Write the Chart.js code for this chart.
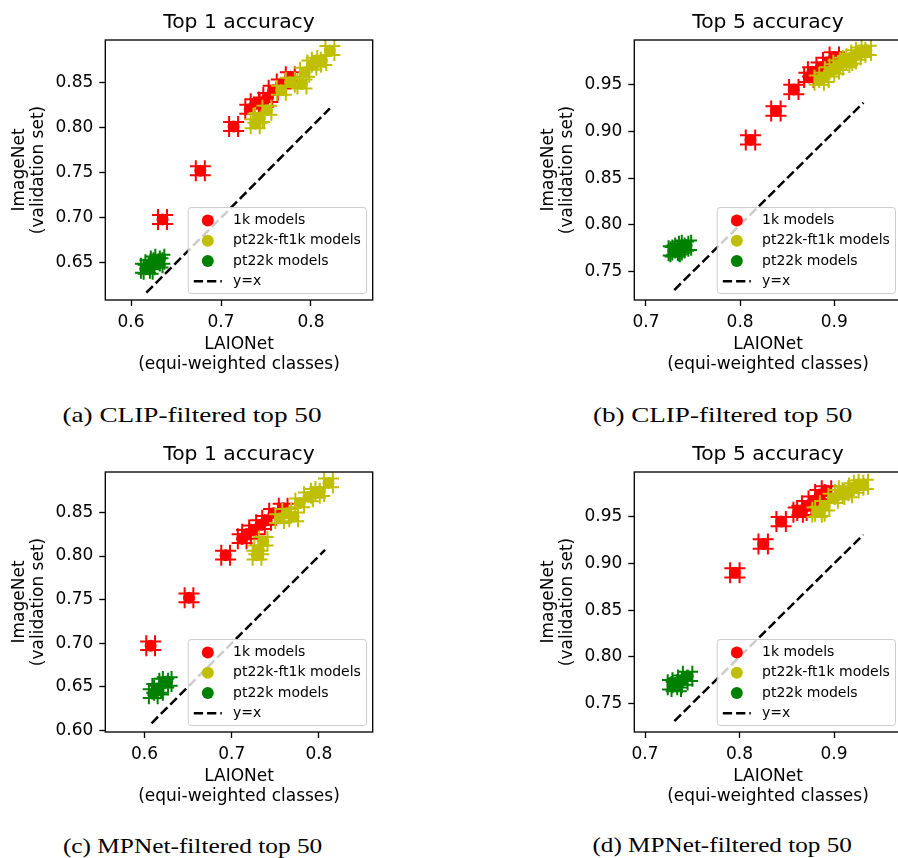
<!DOCTYPE html>
<html>
<head>
<meta charset="utf-8">
<script src="https://cdn.jsdelivr.net/npm/chart.js@4.4.0/dist/chart.umd.min.js"></script>
<style>
  html, body { margin: 0; padding: 0; background: #fff; overflow: hidden; width: 898px; height: 858px; }
  canvas { position: absolute; }
  .cap { position: absolute; font-family: "Liberation Serif", "Times New Roman", serif; font-size: 21px; line-height: 21px; color: #000; white-space: nowrap; }
</style>
</head>
<body>
<canvas id="chA" width="400" height="380" style="left:0px;top:0px"></canvas>
<canvas id="chB" width="400" height="380" style="left:529px;top:0px"></canvas>
<canvas id="chC" width="400" height="380" style="left:0px;top:432px"></canvas>
<canvas id="chD" width="400" height="380" style="left:529px;top:432px"></canvas>
<div class="cap" id="capA">(a) CLIP-filtered top 50</div>
<div class="cap" id="capB">(b) CLIP-filtered top 50</div>
<div class="cap" id="capC">(c) MPNet-filtered top 50</div>
<div class="cap" id="capD">(d) MPNet-filtered top 50</div>
<script>
// ---- data (LAIONet accuracy = x, ImageNet accuracy = y) ----
const seriesNames = ['1k models', 'pt22k-ft1k models', 'pt22k models'];
const diagName = 'y=x';

// (a) CLIP-filtered, top 1
const clip1_1k_laion  = [0.635, 0.677, 0.714, 0.732, 0.738, 0.747, 0.752, 0.758, 0.767, 0.777];
const clip1_1k_imnet  = [0.698, 0.752, 0.801, 0.820, 0.826, 0.828, 0.833, 0.841, 0.848, 0.856];
const clip1_ft_laion  = [0.738, 0.741, 0.743, 0.751, 0.767, 0.777, 0.790, 0.793, 0.801, 0.806, 0.812, 0.821];
const clip1_ft_imnet  = [0.804, 0.810, 0.811, 0.819, 0.841, 0.850, 0.848, 0.861, 0.869, 0.872, 0.874, 0.885];
const clip1_22k_laion = [0.616, 0.619, 0.621, 0.627, 0.632, 0.630];
const clip1_22k_imnet = [0.644, 0.643, 0.648, 0.652, 0.654, 0.650];
const clip1_diag = [0.617, 0.821];

// (b) CLIP-filtered, top 5
const clip5_1k_laion  = [0.811, 0.838, 0.857, 0.873, 0.877, 0.886, 0.893, 0.900];
const clip5_1k_imnet  = [0.891, 0.922, 0.945, 0.958, 0.964, 0.969, 0.974, 0.980];
const clip5_ft_laion  = [0.884, 0.889, 0.895, 0.900, 0.904, 0.911, 0.914, 0.918, 0.923, 0.928, 0.934];
const clip5_ft_imnet  = [0.955, 0.958, 0.964, 0.967, 0.971, 0.974, 0.976, 0.978, 0.982, 0.985, 0.987];
const clip5_22k_laion = [0.729, 0.731, 0.733, 0.736, 0.740, 0.743];
const clip5_22k_imnet = [0.772, 0.771, 0.773, 0.775, 0.777, 0.778];
const clip5_diag = [0.730, 0.931];

// (c) MPNet-filtered, top 1
const mp1_1k_laion  = [0.607, 0.651, 0.693, 0.712, 0.717, 0.725, 0.733, 0.740, 0.748, 0.759];
const mp1_1k_imnet  = [0.697, 0.752, 0.801, 0.820, 0.825, 0.830, 0.836, 0.841, 0.849, 0.855];
const mp1_ft_laion  = [0.729, 0.731, 0.736, 0.755, 0.763, 0.771, 0.778, 0.788, 0.796, 0.801, 0.811];
const mp1_ft_imnet  = [0.801, 0.807, 0.817, 0.843, 0.849, 0.845, 0.861, 0.868, 0.872, 0.874, 0.884];
const mp1_22k_laion = [0.610, 0.614, 0.616, 0.622, 0.626];
const mp1_22k_imnet = [0.642, 0.648, 0.646, 0.654, 0.656];
const mp1_diag = [0.608, 0.807];

// (d) MPNet-filtered, top 5
const mp5_1k_laion  = [0.795, 0.825, 0.844, 0.862, 0.866, 0.871, 0.878, 0.885, 0.892];
const mp5_1k_imnet  = [0.890, 0.921, 0.945, 0.955, 0.957, 0.962, 0.967, 0.974, 0.978];
const mp5_ft_laion  = [0.882, 0.885, 0.890, 0.899, 0.906, 0.910, 0.914, 0.921, 0.926, 0.931];
const mp5_ft_imnet  = [0.955, 0.956, 0.962, 0.970, 0.974, 0.978, 0.976, 0.981, 0.984, 0.985];
const mp5_22k_laion = [0.729, 0.733, 0.734, 0.740, 0.745];
const mp5_22k_imnet = [0.770, 0.768, 0.772, 0.775, 0.779];
const mp5_diag = [0.731, 0.931];

// error bar half widths (LAIONet, ImageNet)
const errHalf = [0.005, 0.005];

// tick labels
const xTicksTop1 = [0.6, 0.7, 0.8];
const xTicksTop5 = [0.7, 0.8, 0.9];
const yTicksClip1 = [0.65, 0.70, 0.75, 0.80, 0.85];
const yTicksMp1 = [0.60, 0.65, 0.70, 0.75, 0.80, 0.85];
const yTicksTop5 = [0.75, 0.80, 0.85, 0.90, 0.95];

const colors = ['#ff0000', '#bfbf00', '#008000'];

Chart.defaults.font.family = 'DejaVu Sans';
Chart.defaults.font.size = 17;
Chart.defaults.color = '#000';

const pts = (xs, ys) => xs.map((v, i) => ({ x: v, y: ys[i] }));

// error bars with long caps, drawn under each dataset's markers
const errorBars = {
  id: 'errorBars',
  beforeDatasetDraw(chart, args) {
    const ds = chart.data.datasets[args.index];
    if (!ds.err) return;
    const { ctx, chartArea: ca, scales: { x, y } } = chart;
    const cap = 10.5;
    ctx.save();
    ctx.beginPath();
    ctx.rect(ca.left, ca.top, ca.right - ca.left, ca.bottom - ca.top);
    ctx.clip();
    ctx.strokeStyle = ds.backgroundColor;
    ctx.lineWidth = 2;
    ds.data.forEach(p => {
      const cx = x.getPixelForValue(p.x), cy = y.getPixelForValue(p.y);
      const x0 = x.getPixelForValue(p.x - ds.err[0]), x1 = x.getPixelForValue(p.x + ds.err[0]);
      const y0 = y.getPixelForValue(p.y - ds.err[1]), y1 = y.getPixelForValue(p.y + ds.err[1]);
      ctx.beginPath();
      ctx.moveTo(x0, cy); ctx.lineTo(x1, cy);
      ctx.moveTo(cx, y0); ctx.lineTo(cx, y1);
      ctx.moveTo(x0, cy - cap); ctx.lineTo(x0, cy + cap);
      ctx.moveTo(x1, cy - cap); ctx.lineTo(x1, cy + cap);
      ctx.moveTo(cx - cap, y0); ctx.lineTo(cx + cap, y0);
      ctx.moveTo(cx - cap, y1); ctx.lineTo(cx + cap, y1);
      ctx.stroke();
    });
    ctx.restore();
  }
};

// spines, title and the legend box
const decor = {
  id: 'decor',
  afterDraw(chart, args, opts) {
    const { ctx, chartArea: ca } = chart;
    ctx.save();
    ctx.strokeStyle = '#000';
    ctx.lineWidth = 1.33;
    ctx.strokeRect(ca.left, ca.top, ca.right - ca.left, ca.bottom - ca.top);

    ctx.fillStyle = '#000';
    ctx.font = '20.3px "DejaVu Sans"';
    ctx.textAlign = 'center';
    ctx.textBaseline = 'middle';
    ctx.fillText(opts.title, (ca.left + ca.right) / 2, 22.7);

    // legend, lower right
    const fs = 14;
    ctx.font = fs + 'px "DejaVu Sans"';
    const labels = seriesNames.concat([diagName]);
    const tw = Math.max(...labels.map(t => ctx.measureText(t).width));
    const w = 5.6 + 28 + 11.2 + tw + 5.6;
    const h = 86;
    const bx = ca.right - 6.2 - w, by = ca.bottom - 6.5 - h;
    ctx.beginPath();
    ctx.roundRect(bx, by, w, h, 3);
    ctx.fillStyle = 'rgba(255,255,255,0.8)';
    ctx.fill();
    ctx.strokeStyle = '#cccccc';
    ctx.lineWidth = 1;
    ctx.stroke();
    labels.forEach((t, i) => {
      const ry = by + 12.9 + i * 20.3;
      const hx = bx + 5.6;
      if (i < 3) {
        ctx.beginPath();
        ctx.arc(hx + 14, ry, 6, 0, Math.PI * 2);
        ctx.fillStyle = colors[i];
        ctx.fill();
      } else {
        ctx.beginPath();
        ctx.setLineDash([9.25, 4]);
        ctx.strokeStyle = '#000';
        ctx.lineWidth = 2.5;
        ctx.moveTo(hx, ry); ctx.lineTo(hx + 28, ry);
        ctx.stroke();
        ctx.setLineDash([]);
      }
      ctx.fillStyle = '#000';
      ctx.textAlign = 'left';
      ctx.textBaseline = 'middle';
      ctx.fillText(t, hx + 28 + 11.2, ry);
    });
    ctx.restore();
  }
};

function makePanel(id, title, groups, diag, xr, yr, xTicks, yTicks) {
  const datasets = groups.map((g, i) => ({
    label: seriesNames[i],
    data: pts(g[0], g[1]),
    err: errHalf,
    backgroundColor: colors[i],
    borderColor: colors[i],
    pointRadius: 6,
    pointBorderWidth: 0,
    order: 3 - i
  }));
  datasets.push({
    label: diagName,
    type: 'line',
    showLine: true,
    data: pts(diag, diag),
    borderColor: '#000',
    borderWidth: 2.5,
    borderDash: [9.25, 4],
    pointRadius: 0,
    order: 0
  });
  new Chart(document.getElementById(id), {
    type: 'scatter',
    data: { datasets },
    options: {
      responsive: false,
      animation: false,
      devicePixelRatio: 1,
      layout: { padding: { top: 40, right: 27.3, left: 0, bottom: 0 } },
      plugins: { legend: { display: false }, tooltip: { enabled: false }, decor: { title } },
      scales: {
        x: {
          type: 'linear', min: xr[0], max: xr[1],
          afterBuildTicks: ax => { ax.ticks = xTicks.map(v => ({ value: v })); },
          afterFit: ax => { ax.height = 80; },
          ticks: { padding: 6, color: '#000', callback: v => v.toFixed(1) },
          grid: { drawOnChartArea: false, tickLength: 6, tickColor: '#000', tickWidth: 1.33 },
          border: { display: false },
          title: { display: true, text: ['LAIONet', '(equi-weighted classes)'], font: { size: 17, lineHeight: 1.15 }, padding: { top: 0, bottom: 6 }, color: '#000' }
        },
        y: {
          type: 'linear', min: yr[0], max: yr[1],
          afterBuildTicks: ax => { ax.ticks = yTicks.map(v => ({ value: v })); },
          afterFit: ax => { ax.width = 105.3; },
          ticks: { padding: 6, color: '#000', callback: v => v.toFixed(2) },
          grid: { drawOnChartArea: false, tickLength: 6, tickColor: '#000', tickWidth: 1.33 },
          border: { display: false },
          title: { display: true, text: ['ImageNet', '(validation set)'], font: { size: 17, lineHeight: 1.15 }, padding: { top: 9.5, bottom: 0 }, color: '#000' }
        }
      }
    },
    plugins: [errorBars, decor]
  });
}

makePanel('chA', 'Top 1 accuracy',
  [[clip1_1k_laion, clip1_1k_imnet], [clip1_ft_laion, clip1_ft_imnet], [clip1_22k_laion, clip1_22k_imnet]],
  clip1_diag, [0.5714, 0.8686], [0.6089, 0.8967], xTicksTop1, yTicksClip1);
makePanel('chB', 'Top 5 accuracy',
  [[clip5_1k_laion, clip5_1k_imnet], [clip5_ft_laion, clip5_ft_imnet], [clip5_22k_laion, clip5_22k_imnet]],
  clip5_diag, [0.6876, 0.9716], [0.7193, 0.9981], xTicksTop5, yTicksTop5);
makePanel('chC', 'Top 1 accuracy',
  [[mp1_1k_laion, mp1_1k_imnet], [mp1_ft_laion, mp1_ft_imnet], [mp1_22k_laion, mp1_22k_imnet]],
  mp1_diag, [0.555, 0.8617], [0.598, 0.8965], xTicksTop1, yTicksMp1);
makePanel('chD', 'Top 5 accuracy',
  [[mp5_1k_laion, mp5_1k_imnet], [mp5_ft_laion, mp5_ft_imnet], [mp5_22k_laion, mp5_22k_imnet]],
  mp5_diag, [0.6886, 0.9716], [0.7193, 0.9982], xTicksTop5, yTicksTop5);

// sub-figure captions, centred under each panel
const capPlaces = [['capA', 192, 415], ['capB', 722, 415], ['capC', 192.5, 846.5], ['capD', 722, 845.5]];
capPlaces.forEach(([id, cx, cy]) => {
  const el = document.getElementById(id);
  const w = el.offsetWidth, h = el.offsetHeight;
  const sx = 259 / w;
  el.style.left = (cx - w / 2) + 'px';
  el.style.top = (cy - h / 2) + 'px';
  el.style.transform = 'scaleX(' + sx.toFixed(3) + ')';
});
</script>
</body>
</html>
